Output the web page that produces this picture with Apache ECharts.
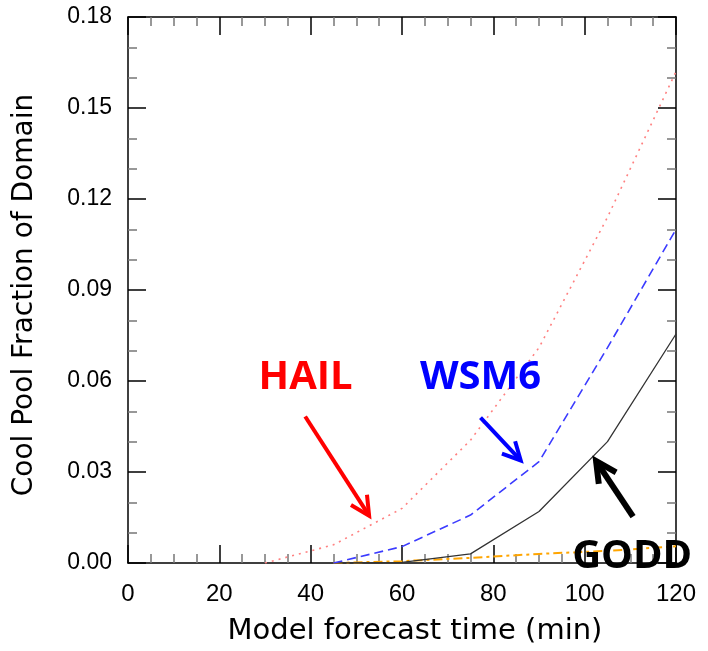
<!DOCTYPE html>
<html>
<head>
<meta charset="utf-8">
<script src="https://cdn.jsdelivr.net/npm/echarts@6/dist/echarts.min.js"></script>
<style>
  html, body { margin: 0; padding: 0; background: #fff; }
  #chart { width: 708px; height: 651px; }
</style>
</head>
<body>
<div id="chart"></div>
<script>
// forecast output times (min)
const times = [30, 45, 60, 75, 90, 105, 120];

// cool pool fraction per scheme (null = not yet formed)
const hail = [0, 0.006, 0.018, 0.0405, 0.071, 0.114, 0.162];
const wsm6 = [null, 0, 0.0054, 0.0158, 0.0334, 0.071, 0.110];
const godd = [null, 0, 0.0002, 0.003, 0.017, 0.040, 0.0755];
const other = [null, 0, 0.0006, 0.0017, 0.003, 0.004, 0.0055];

const xTicks = [0, 20, 40, 60, 80, 100, 120];
const yTicks = ['0.00', '0.03', '0.06', '0.09', '0.12', '0.15', '0.18'];

// annotation labels and arrows, in data coordinates
const notes = [
    { text: 'HAIL', color: '#ff0000', at: [38.9, 0.061], tail: [38.8, 0.0483], tip: [52.8, 0.0156], width: 4, head: 21 },
    { text: 'WSM6', color: '#0000ff', at: [77.2, 0.061], tail: [77.2, 0.0479], tip: [86.0, 0.0338], width: 4, head: 20 },
    { text: 'GODD', color: '#000000', at: [110.4, 0.0020], tail: [110.6, 0.0153], tip: [102.5, 0.0336], width: 6, head: 23 }
];

function pairs(ys) {
    return times.map((t, i) => [t, ys[i]]);
}

const labelFont = 'Liberation Sans, Arial, sans-serif';
const titleFont = 'DejaVu Sans, sans-serif';

let myChart = echarts.init(document.getElementById('chart'));

const xBase = {
    type: 'value',
    min: 0,
    max: 120,
    interval: 20,
    axisLine: { onZero: false, lineStyle: { color: '#000', width: 1.5 } },
    axisTick: { inside: true, length: 18, lineStyle: { color: '#000', width: 1.5 } },
    minorTick: { show: true, splitNumber: 4, length: 9, lineStyle: { color: '#777', width: 1.5 } },
    splitLine: { show: false }
};
const yBase = {
    type: 'value',
    min: 0,
    max: 0.18,
    interval: 0.03,
    axisLine: { show: true, onZero: false, lineStyle: { color: '#000', width: 1.5 } },
    axisTick: { show: true, inside: true, length: 18, lineStyle: { color: '#000', width: 1.5 } },
    minorTick: { show: true, splitNumber: 3, length: 9, lineStyle: { color: '#777', width: 1.5 } },
    splitLine: { show: false }
};

let option = {
    backgroundColor: '#fff',
    animation: false,
    grid: { left: 128, right: 32, top: 17, bottom: 88 },
    xAxis: [
        Object.assign({}, xBase, {
            position: 'bottom',
            name: 'Model forecast time (min)',
            nameLocation: 'middle',
            nameGap: 54,
            nameTextStyle: { fontFamily: titleFont, fontSize: 29, color: '#000', padding: [0, 0, 0, 26] },
            axisLabel: {
                margin: 19,
                fontFamily: labelFont,
                fontSize: 24,
                color: '#000',
                formatter: (v) => xTicks.indexOf(v) >= 0 ? String(v) : ''
            }
        }),
        Object.assign({}, xBase, { position: 'top', axisLabel: { show: false } })
    ],
    yAxis: [
        Object.assign({}, yBase, {
            position: 'left',
            name: 'Cool Pool Fraction of Domain',
            nameLocation: 'middle',
            nameGap: 89,
            nameTextStyle: { fontFamily: titleFont, fontSize: 28, color: '#000', padding: [0, 10, 0, 0] },
            axisLabel: {
                margin: 16,
                fontFamily: labelFont,
                fontSize: 23,
                color: '#000',
                formatter: (v) => yTicks[Math.round(v / 0.03)]
            }
        }),
        Object.assign({}, yBase, { position: 'right', axisLabel: { show: false } })
    ],
    series: [
        {
            name: 'other',
            type: 'line',
            data: pairs(other),
            symbol: 'none',
            lineStyle: { color: '#ffa500', width: 2, type: [9, 4, 3, 4] },
            z: 3
        },
        {
            name: 'GODD',
            type: 'line',
            data: pairs(godd),
            symbol: 'none',
            lineStyle: { color: '#333', width: 1.3 },
            z: 4
        },
        {
            name: 'WSM6',
            type: 'line',
            data: pairs(wsm6),
            symbol: 'none',
            lineStyle: { color: '#3b3bff', width: 1.6, type: [9, 5] },
            z: 5
        },
        {
            name: 'HAIL',
            type: 'line',
            data: pairs(hail),
            symbol: 'none',
            lineStyle: { color: '#ff8080', width: 1.6, type: [2, 5] },
            z: 6
        }
    ]
};
myChart.setOption(option);

// text labels and arrows placed from data coordinates
let graphics = [];
notes.forEach((n) => {
    const p = myChart.convertToPixel({ gridIndex: 0 }, n.at);
    const a = myChart.convertToPixel({ gridIndex: 0 }, n.tail);
    const b = myChart.convertToPixel({ gridIndex: 0 }, n.tip);
    graphics.push({
        type: 'text',
        x: p[0],
        y: p[1],
        z: 100,
        style: {
            text: n.text,
            fill: n.color,
            font: 'bold 40px "Open Sans", sans-serif',
            align: 'center',
            verticalAlign: 'middle'
        }
    });
    const ang = Math.atan2(a[1] - b[1], a[0] - b[0]);
    const w1 = [b[0] + n.head * Math.cos(ang + 0.47), b[1] + n.head * Math.sin(ang + 0.47)];
    const w2 = [b[0] + n.head * Math.cos(ang - 0.47), b[1] + n.head * Math.sin(ang - 0.47)];
    graphics.push({
        type: 'polyline',
        z: 100,
        shape: { points: [a, b] },
        style: { stroke: n.color, lineWidth: n.width, lineCap: 'butt' }
    });
    graphics.push({
        type: 'polyline',
        z: 100,
        shape: { points: [w1, b, w2] },
        style: { stroke: n.color, fill: null, lineWidth: n.width, lineJoin: 'miter' }
    });
});
myChart.setOption({ graphic: graphics });
</script>
</body>
</html>
